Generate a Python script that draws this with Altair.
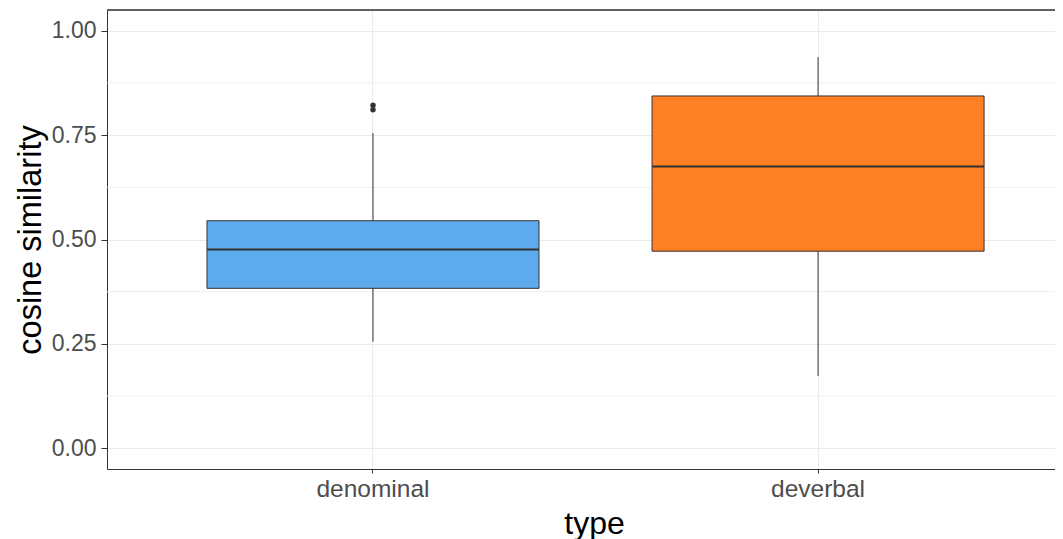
import altair as alt
import pandas as pd

types = ["denominal", "deverbal"]
lower = [0.255, 0.173]
q1 = [0.383, 0.472]
median = [0.476, 0.675]
q3 = [0.545, 0.844]
upper = [0.755, 0.937]
outlier_type = ["denominal", "denominal"]
outlier_val = [0.822, 0.811]
fills = ["#5DABEC", "#FE7F24"]
minor_grid = [0.125, 0.375, 0.625, 0.875]
major_ticks = [0.0, 0.25, 0.5, 0.75, 1.0]
y_domain = [-0.05, 1.05]

stats = pd.DataFrame({"type": types, "lower": lower, "q1": q1, "median": median, "q3": q3, "upper": upper})
outliers = pd.DataFrame({"type": outlier_type, "value": outlier_val})
minor = pd.DataFrame({"v": minor_grid})

W, H = 948, 459
FONT = "Liberation Sans"
xscale = alt.Scale(domain=types, paddingInner=0.254, paddingOuter=0.192, align=0.585)
yscale = alt.Scale(domain=y_domain, nice=False, zero=False)

xaxis = alt.Axis(title="type", labelFontSize=24.5, labelColor="#4D4D4D", labelFont=FONT,
                 titleFontSize=32, titleColor="#000000", titleFont=FONT, titleFontWeight="normal",
                 titleX=487, titleY=64, titleBaseline="alphabetic", titleAlign="center",
                 tickColor="#333333", tickSize=4, labelPadding=4,
                 domainColor="#333333", domainWidth=1, grid=True, gridColor="#EBEBEB",
                 bandPosition=0.5, labelAngle=0)
yaxis = alt.Axis(title="cosine similarity", values=major_ticks, format=".2f",
                 labelFontSize=23, labelColor="#4D4D4D", labelFont=FONT,
                 titleFontSize=32.5, titleColor="#000000", titleFont=FONT, titleFontWeight="normal",
                 tickColor="#333333", tickSize=6, labelPadding=5, titlePadding=4,
                 domainColor="#333333", domainWidth=1, grid=True, gridColor="#EBEBEB")

minor_layer = alt.Chart(minor).mark_rule(color="#EBEBEB", strokeWidth=0.8).encode(
    y=alt.Y("v:Q", scale=yscale, axis=yaxis)
)

whisk = alt.Chart(stats).mark_rule(color="#333333", strokeWidth=1).encode(
    x=alt.X("type:N", scale=xscale, axis=xaxis),
    y=alt.Y("lower:Q", scale=yscale),
    y2="upper:Q",
)

box = alt.Chart(stats).mark_bar(stroke="#333333", strokeWidth=1).encode(
    x=alt.X("type:N", scale=xscale),
    y=alt.Y("q1:Q", scale=yscale),
    y2="q3:Q",
    fill=alt.Fill("type:N", scale=alt.Scale(domain=types, range=fills), legend=None),
)

med = alt.Chart(stats).mark_tick(color="#333333", thickness=2, size=332, opacity=1).encode(
    x=alt.X("type:N", scale=xscale),
    y=alt.Y("median:Q", scale=yscale),
)

pts = alt.Chart(outliers).mark_circle(color="#333333", size=30, opacity=1).encode(
    x=alt.X("type:N", scale=xscale),
    y=alt.Y("value:Q", scale=yscale),
)

# top frame line of the panel, placed at the top of the y domain
top_border = alt.Chart(stats).mark_rule(color="#333333", strokeWidth=1).encode(
    y=alt.datum(y_domain[1]),
    x=alt.value(0),
    x2=alt.value(W),
)

chart = alt.layer(minor_layer, whisk, box, med, pts, top_border).properties(
    width=W, height=H,
    autosize=alt.AutoSizeParams(type="none"),
    padding={"left": 99, "top": 2, "right": 0, "bottom": 75},
).configure_view(stroke=None).configure(background="white")

chart.save("out.html", embed_options={"renderer": "svg", "actions": False})
